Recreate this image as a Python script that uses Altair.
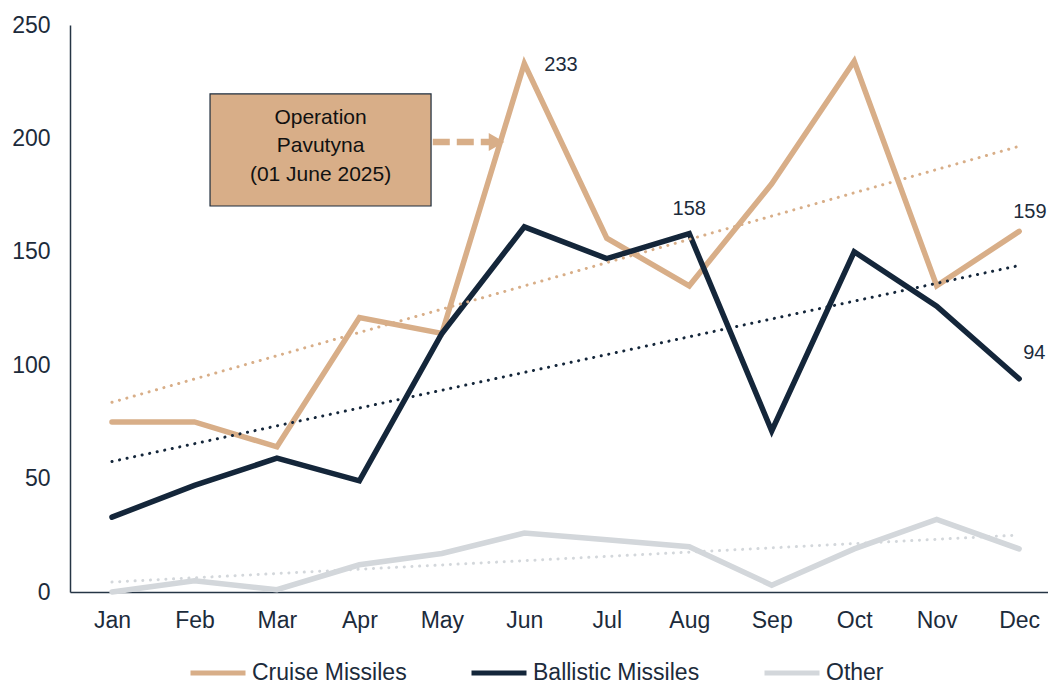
import altair as alt
import pandas as pd

# ---- data ----
months = ["Jan", "Feb", "Mar", "Apr", "May", "Jun", "Jul", "Aug", "Sep", "Oct", "Nov", "Dec"]
cruise = [75, 75, 64, 121, 114, 233, 156, 135, 180, 234, 135, 159]
ballistic = [33, 47, 59, 49, 114, 161, 147, 158, 71, 150, 126, 94]
other = [0, 5, 1, 12, 17, 26, 23, 20, 3, 19, 32, 19]
series_names = ["Cruise Missiles", "Ballistic Missiles", "Other"]
series_colors = ["#D8AE88", "#14263A", "#D3D7DB"]
y_ticks = [0, 50, 100, 150, 200, 250]
annotation_lines = ["Operation", "Pavutyna", "(01 June 2025)"]

FONT = "Liberation Sans"
TXT = "#1C2B3B"
AXIS = "#253545"

df = pd.DataFrame({
    "idx": list(range(12)) * 3,
    "month": months * 3,
    "series": sum([[s] * 12 for s in series_names], []),
    "value": cruise + ballistic + other,
})

label_expr = "[" + ",".join(f"'{m}'" for m in months) + "][datum.value]"

x_scale = alt.Scale(domain=[-0.509, 11.35], nice=False, zero=False)
y_scale = alt.Scale(domain=[0, 250], nice=False)
color_scale = alt.Scale(domain=series_names, range=series_colors)

x_enc = alt.X("idx:Q", scale=x_scale, axis=alt.Axis(
    values=list(range(12)), labelExpr=label_expr, title=None, grid=False,
    ticks=False, tickSize=0, labelFontSize=23, labelPadding=17, labelColor=TXT,
    labelFont=FONT, domainColor=AXIS, domainWidth=1.5, labelFlush=False,
    labelOverlap=False))
y_enc = alt.Y("value:Q", scale=y_scale, axis=alt.Axis(
    values=y_ticks, title=None, grid=False, ticks=False, tickSize=0,
    labelFontSize=23, labelPadding=20, labelColor=TXT, labelFont=FONT,
    domainColor=AXIS, domainWidth=1.5))

base = alt.Chart(df)

lines = base.mark_line(strokeWidth=5.5, strokeCap="round", strokeJoin="miter").encode(
    x=x_enc, y=y_enc,
    color=alt.Color("series:N", scale=color_scale, sort=series_names, legend=alt.Legend(
        orient="none", legendX=118, legendY=618, direction="horizontal", title=None,
        symbolType="stroke", symbolSize=3025, symbolStrokeWidth=5,
        labelFontSize=23, labelColor=TXT, labelFont=FONT, columnPadding=54,
        labelOffset=4, padding=0, labelLimit=400)),
    order=alt.Order("idx:Q"),
)

trends = base.transform_regression("idx", "value", groupby=["series"]).mark_line(
    strokeWidth=3, strokeDash=[0.1, 7.6], strokeCap="round").encode(
    x=x_enc, y=y_enc,
    color=alt.Color("series:N", scale=color_scale, sort=series_names, legend=None),
)

def value_label(values, i, dx, dy, align):
    d = pd.DataFrame({"idx": [i], "value": [values[i]]})
    return alt.Chart(d).mark_text(
        align=align, baseline="middle", dx=dx, dy=dy, fontSize=20,
        font=FONT, color=TXT).encode(x=x_enc, y=y_enc, text="value:Q")

labels = [
    value_label(cruise, 5, 20, 1, "left"),
    value_label(ballistic, 7, 0, -25, "center"),
    value_label(cruise, 11, -6, -19, "left"),
    value_label(ballistic, 11, 4, -26, "left"),
]

# annotation box (positioned in data units)
box_df = pd.DataFrame({"idx": [1.189], "idx2": [3.869], "value": [219.6], "value2": [170.2]})
box = alt.Chart(box_df).mark_rect(fill="#D8AE88", stroke="#1C2B3B", strokeWidth=1.2).encode(
    x=x_enc, x2="idx2:Q", y=y_enc, y2="value2:Q")

box_text_df = pd.DataFrame({"idx": [2.529], "value": [209.0]})
box_text = alt.Chart(box_text_df).mark_text(
    text=annotation_lines, lineHeight=28.5, fontSize=21, font=FONT,
    align="center", baseline="middle", color="#111111").encode(x=x_enc, y=y_enc)

arrow_df = pd.DataFrame({"idx": [3.89], "idx2": [4.60], "value": [198.4]})
arrow = alt.Chart(arrow_df).mark_rule(strokeDash=[17, 7], strokeWidth=6.5, color="#D8AE88").encode(
    x=x_enc, x2="idx2:Q", y=y_enc)

head_df = pd.DataFrame({"idx": [4.663], "value": [198.4]})
head = alt.Chart(head_df).mark_point(shape="triangle-right", size=324, filled=True,
                                     opacity=1, color="#D8AE88").encode(x=x_enc, y=y_enc)

chart = alt.layer(lines, trends, *labels, box, box_text, arrow, head).resolve_legend(
    color="independent"
).properties(
    width=978, height=567,
    padding={"left": 62, "top": 17, "right": 0, "bottom": 92},
    autosize=alt.AutoSizeParams(type="none"),
).configure(font=FONT).configure_view(strokeWidth=0, stroke="transparent")

chart.save("out.html", embed_options={"renderer": "svg", "actions": False})
